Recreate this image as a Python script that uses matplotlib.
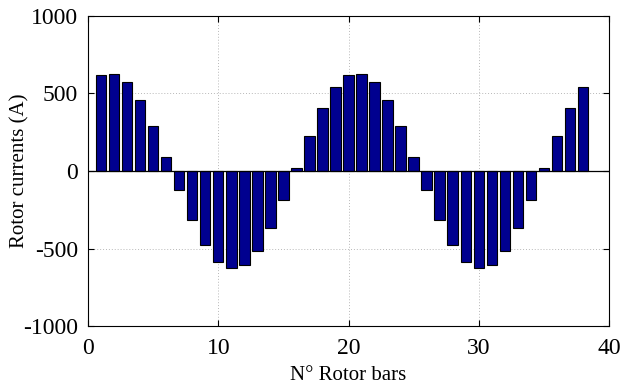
import matplotlib
matplotlib.use("Agg")
import matplotlib.pyplot as plt

bars = list(range(1, 39))
currents = [619, 628, 574, 456, 288, 92, -121, -316, -475, -585, -628, -606, -514, -370, -187,
            21, 226, 404, 542,
            619, 628, 574, 456, 288, 92, -121, -316, -475, -585, -628, -606, -514, -370, -187,
            21, 226, 404, 542]
xticks = [0, 10, 20, 30, 40]
yticks = [-1000, -500, 0, 500, 1000]

plt.rcParams['font.family'] = ['Liberation Serif', 'DejaVu Serif']
fig = plt.figure(figsize=(6.23, 3.87), dpi=100)
ax = fig.add_axes([0.1413, 0.1576, 0.8362, 0.8011])
ax.bar(bars, currents, width=0.8, color='#00008F', edgecolor='black', linewidth=0.8, zorder=3)
ax.axhline(0, color='black', linewidth=0.9, zorder=4)
ax.set_xlim(0, 40)
ax.set_ylim(-1000, 1000)
ax.set_xticks(xticks)
ax.set_yticks(yticks)
ax.set_xticklabels([str(t) for t in xticks])
ax.set_yticklabels([str(t) for t in yticks])
ax.grid(True, linestyle=(0, (1, 2)), color='#b8b8b8', linewidth=0.7, zorder=0)
ax.tick_params(direction='in', top=True, right=True, labelsize=17, length=4, width=0.8)
ax.tick_params(axis='x', pad=8.5)
ax.tick_params(axis='y', pad=7)
for s in ax.spines.values():
    s.set_linewidth(0.8)
ax.set_xlabel('N° Rotor bars', fontsize=15, labelpad=5.5)
ax.set_ylabel('Rotor currents (A)', fontsize=15)
ax.yaxis.set_label_coords(-0.113, 0.5)
fig.savefig('out.png', dpi=100)
